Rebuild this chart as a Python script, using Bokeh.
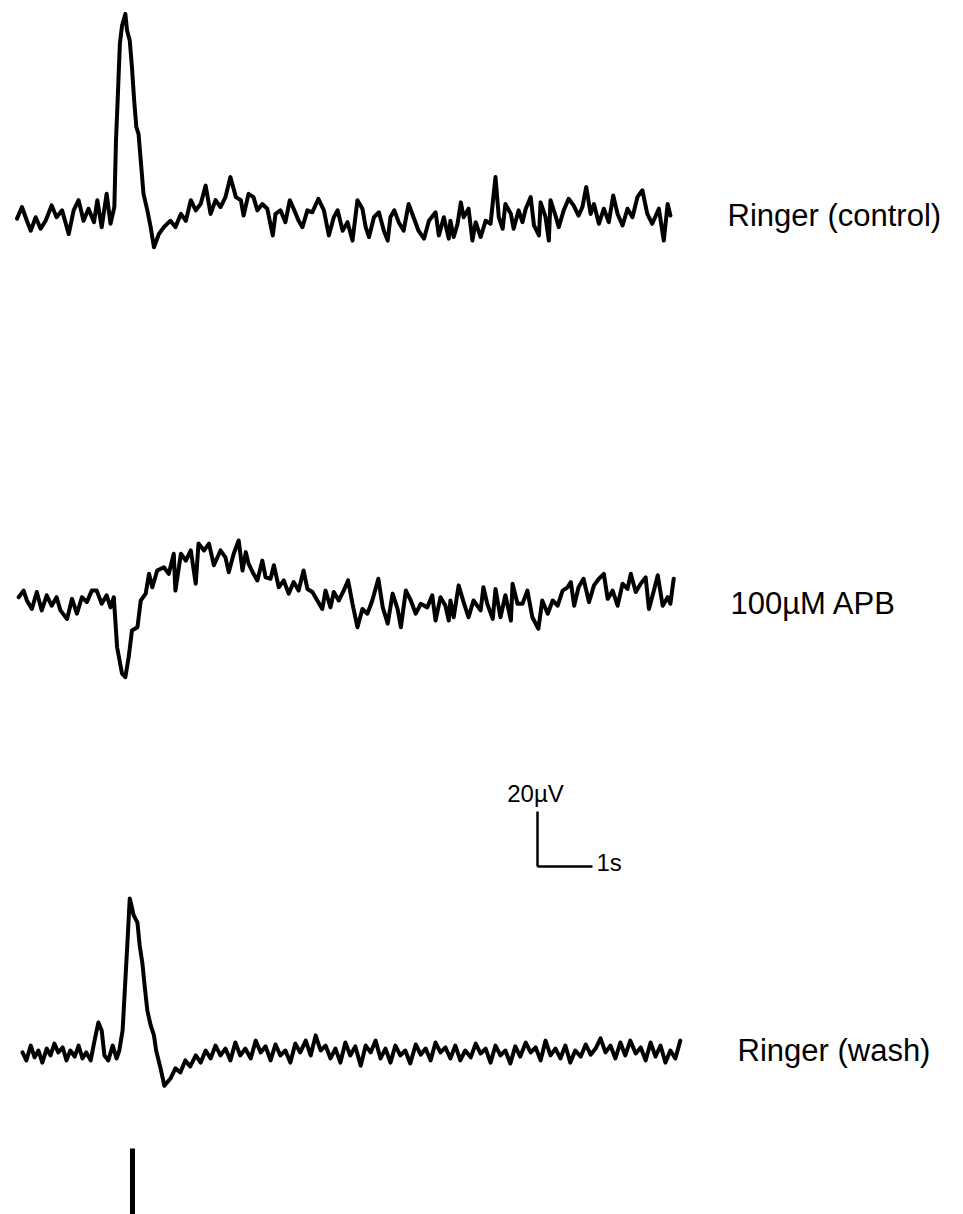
from bokeh.plotting import figure
from bokeh.models import Range1d, Label
from bokeh.embed import file_html
from bokeh.resources import INLINE

# ---------------- data (time in s from stimulus, potential in µV relative to baseline) ----------------
t_control = [-2.10, -2.01, -1.92, -1.85, -1.76, -1.67, -1.58, -1.47, -1.38, -1.28, -1.16, -1.07, -0.98, -0.89,
             -0.80, -0.70, -0.64, -0.56, -0.47, -0.40, -0.33, -0.30, -0.27, -0.23, -0.19, -0.13, -0.10, -0.05,
             -0.01, 0.03, 0.07, 0.11, 0.16, 0.20, 0.27, 0.33, 0.39, 0.48, 0.57, 0.69, 0.78, 0.88, 0.97, 1.06,
             1.15, 1.24, 1.33, 1.42, 1.51, 1.60, 1.69, 1.78, 1.88, 1.97, 2.02, 2.11, 2.20, 2.27, 2.36, 2.45,
             2.55, 2.60, 2.69, 2.78, 2.86, 2.93, 3.02, 3.09, 3.18, 3.27, 3.38, 3.48, 3.57, 3.66, 3.73, 3.82,
             3.91, 4.00, 4.09, 4.18, 4.24, 4.30, 4.39, 4.48, 4.57, 4.64, 4.69, 4.76, 4.84, 4.93, 5.02, 5.11,
             5.20, 5.30, 5.39, 5.51, 5.57, 5.66, 5.75, 5.78, 5.84, 5.91, 5.97, 6.02, 6.11, 6.18, 6.24, 6.33,
             6.42, 6.51, 6.60, 6.66, 6.73, 6.78, 6.88, 6.93, 7.02, 7.09, 7.15, 7.24, 7.30, 7.39, 7.42, 7.51,
             7.57, 7.60, 7.69, 7.75, 7.84, 7.93, 8.02, 8.11, 8.18, 8.25, 8.33, 8.39, 8.48, 8.57, 8.66, 8.74,
             8.82, 8.91, 9.00, 9.09, 9.18, 9.27, 9.36, 9.45, 9.57, 9.66, 9.73, 9.78]
v_control = [-0.4, 3.8, -1.2, -4.8, 0.1, -4.1, -1.2, 4.4, 0.1, 2.6, -6.0, 2.6, 6.3, -1.2,
             3.2, -1.7, 6.3, -3.5, 8.6, -2.3, 3.8, 28.1, 42.6, 63.1, 69.8, 74.0, 68.1, 64.4,
             54.7, 42.6, 32.9, 30.4, 18.3, 8.6, 2.6, -3.5, -10.8, -6.0, -3.5, -1.2, -3.5, 1.3, -1.2, 6.3,
             2.6, 4.9, 11.6, 1.3, 6.3, 3.8, 7.4, 14.7, 7.4, 6.3, 0.7, 8.6, 7.4, 2.6, 4.9, 3.2,
             -6.5, 1.3, 2.6, -1.7, 6.3, 3.2, -1.2, -3.5, 2.6, 1.9, 6.8, 2.6, -6.5, 0.1, 2.6, -4.8,
             -1.7, -8.4, 6.3, 3.2, -3.5, -7.1, 0.1, 1.9, -4.8, -8.4, 0.1, 2.6, -1.7, -4.8, 4.9, 0.1,
             -4.8, -7.7, -1.2, 1.9, -6.5, 0.1, -7.7, -1.2, -7.1, -2.3, 5.5, 0.1, 3.2, -8.4, -1.7, -7.1,
             -1.2, -2.3, 14.7, 0.1, -4.1, 4.9, 1.3, -4.1, 2.6, -1.7, 3.2, 7.4, -2.9, -6.5, 5.5, 0.1,
             -8.4, 6.3, 0.7, -3.5, 2.6, 6.8, 4.4, 0.7, 3.8, 11.1, 1.3, 4.9, -2.3, 3.2, -1.7, 8.0,
             1.3, -2.9, 3.2, 0.1, 7.4, 9.9, 1.3, -2.3, 3.2, -8.4, 4.9, 0.7]

t_apb = [-2.07, -1.98, -1.92, -1.83, -1.74, -1.65, -1.56, -1.47, -1.38, -1.31, -1.19, -1.10, -1.01, -0.92,
         -0.83, -0.74, -0.65, -0.56, -0.47, -0.40, -0.34, -0.28, -0.19, -0.13, -0.07, -0.01, 0.09, 0.15,
         0.24, 0.30, 0.36, 0.45, 0.57, 0.66, 0.75, 0.78, 0.88, 0.97, 1.06, 1.15, 1.20, 1.30, 1.39, 1.48,
         1.60, 1.69, 1.75, 1.84, 1.93, 2.00, 2.06, 2.11, 2.20, 2.27, 2.36, 2.42, 2.51, 2.57, 2.66, 2.75,
         2.84, 2.93, 3.02, 3.11, 3.18, 3.27, 3.36, 3.45, 3.51, 3.60, 3.66, 3.75, 3.84, 3.92, 4.00, 4.09,
         4.18, 4.27, 4.36, 4.47, 4.55, 4.64, 4.73, 4.82, 4.88, 4.97, 5.06, 5.15, 5.24, 5.36, 5.45, 5.51,
         5.60, 5.69, 5.75, 5.78, 5.84, 5.93, 6.02, 6.11, 6.20, 6.33, 6.38, 6.45, 6.55, 6.60, 6.69, 6.78,
         6.88, 6.91, 7.00, 7.09, 7.18, 7.27, 7.38, 7.45, 7.55, 7.64, 7.73, 7.82, 7.91, 7.97, 8.03, 8.11,
         8.20, 8.30, 8.39, 8.48, 8.57, 8.64, 8.73, 8.82, 8.91, 9.00, 9.06, 9.15, 9.24, 9.33, 9.39, 9.48,
         9.55, 9.64, 9.73, 9.78, 9.84]
v_apb = [1.2, 3.6, 0.0, -3.1, 3.1, -3.6, 1.9, -1.9, 1.2, -3.6, -6.7, 0.6, -4.8, 1.2,
         -0.6, 3.6, 3.6, -1.2, 1.9, -2.5, 1.2, -17.0, -26.6, -27.9, -20.7, -10.9, -9.7, 0.0,
         2.5, 9.7, 4.8, 10.9, 12.1, 9.7, 17.0, 3.6, 17.0, 14.5, 18.2, 6.1, 20.7, 18.2, 20.7, 12.8,
         18.2, 15.7, 10.3, 17.0, 21.8, 10.9, 17.6, 13.4, 9.7, 7.3, 14.5, 8.4, 7.9, 12.8, 4.8, 7.3,
         2.5, 6.7, 3.6, 10.9, 4.2, 3.1, 0.0, -3.1, 3.6, -2.5, 3.1, 0.0, 3.6, 7.3, -1.2, -9.7,
         -3.1, -4.8, 0.0, 7.9, -2.5, -8.4, 2.5, -3.1, -9.7, 3.6, 0.0, -4.8, -1.2, -2.5, 1.9, -7.3,
         1.2, -1.9, -7.3, 0.0, -6.1, 5.5, -0.6, -6.1, 0.0, -3.6, 4.8, -1.2, -6.7, 4.2, -6.1, 1.9,
         -7.3, 6.1, -1.2, -1.2, 3.6, -6.1, -10.3, 0.0, -4.8, 0.0, -1.9, 3.6, 4.8, 6.7, -1.9, 4.8,
         7.9, -0.6, 5.5, 7.9, 9.7, 0.6, 3.6, -1.9, 6.1, 4.2, 9.7, 3.1, 6.1, 8.4, -3.1, 3.6,
         9.2, -1.9, 1.2, -1.2, 7.9]

t_wash = [-2.00, -1.93, -1.85, -1.78, -1.71, -1.64, -1.56, -1.49, -1.42, -1.35, -1.27, -1.20, -1.13, -1.05,
          -0.98, -0.91, -0.84, -0.76, -0.69, -0.62, -0.56, -0.51, -0.44, -0.36, -0.29, -0.24, -0.18,
          -0.16, -0.13, -0.09, -0.05, -0.02, 0.02, 0.09, 0.13, 0.18, 0.22, 0.27, 0.33, 0.39, 0.43, 0.51, 0.58,
          0.69, 0.78, 0.87, 0.96, 1.05, 1.15, 1.24, 1.33, 1.42, 1.51,
          1.60, 1.69, 1.78, 1.87, 1.96, 2.05, 2.15, 2.24, 2.33, 2.42,
          2.51, 2.60, 2.69, 2.78, 2.87, 2.96, 3.05, 3.15, 3.24, 3.33,
          3.42, 3.51, 3.60, 3.69, 3.78, 3.87, 3.96, 4.05, 4.15, 4.24,
          4.33, 4.42, 4.51, 4.60, 4.69, 4.78, 4.87, 4.96, 5.05, 5.15,
          5.24, 5.33, 5.42, 5.51, 5.60, 5.69, 5.78, 5.87, 5.96, 6.05,
          6.15, 6.24, 6.33, 6.42, 6.51, 6.60, 6.69, 6.78, 6.87, 6.96,
          7.05, 7.15, 7.24, 7.33, 7.42, 7.51, 7.60, 7.69, 7.78, 7.87,
          7.96, 8.05, 8.15, 8.24, 8.33, 8.42, 8.51, 8.60, 8.69, 8.78,
          8.87, 8.96, 9.05, 9.15, 9.24, 9.33, 9.42, 9.51, 9.60, 9.69,
          9.78, 9.87, 9.96]
v_wash = [-0.7, -3.6, 1.8, -2.5, 0.0, -4.4, 0.7, -1.8, 2.5, -0.7, 1.1, -3.6, 0.0, -2.2,
          1.8, -2.9, -0.7, -3.6, 3.6, 10.2, 7.3, -1.8, -3.6, 1.8, -2.9, 0.0, 7.3,
          14.5, 25.5, 40.0, 55.3, 52.8, 49.2, 46.5, 38.3, 31.7, 23.7, 14.5, 9.2, 5.5, 0.0, -6.5, -12.8,
          -10.2, -6.5, -8.0, -3.6, -5.8, -1.8, -4.4, 0.0, -2.9, 1.8,
          -1.8, 0.7, -3.6, 2.9, -1.8, 0.7, -2.9, 3.6, -0.7, 1.5,
          -3.6, 2.2, -1.8, 0.0, -4.4, 2.5, -0.7, 3.6, -1.8, 5.5,
          0.0, 1.8, -2.9, 0.7, -4.4, 2.9, -1.8, 1.5, -5.5, 1.8,
          -0.7, 3.6, -2.9, 0.7, -4.4, 1.8, -1.8, 0.0, -4.7, 2.2,
          -1.5, 0.7, -3.6, 2.9, -0.7, 1.1, -2.9, 1.8, -3.6, 0.0,
          -2.5, 2.5, -1.1, 0.7, -4.4, 1.8, -1.8, 0.0, -4.7, 1.5,
          -2.2, 2.9, -0.7, 1.1, -3.6, 3.6, -1.8, 0.7, -2.9, 1.8,
          -4.4, 0.0, -2.2, 2.2, -1.5, 0.7, 4.4, -0.7, 1.8, -2.9,
          2.9, -1.8, 3.6, -1.1, 1.1, -3.6, 2.9, -2.2, 1.8, -4.4,
          0.0, -2.9, 3.6]

trace_labels = ["Ringer (control)", "100\u00b5M APB", "Ringer (wash)"]
stimulus_time = [0.0]
scale_time = 1.0        # s
scale_volt = 20.0       # µV
scale_labels = ["20\u00b5V", "1s"]

# ---------------- layout ----------------
W, H = 963, 1214
PX_PER_S = 55.0
PX_PER_UV = 2.75
X0_PX = 132            # pixel column of the stimulus (t = 0)

def yd(px):            # layout pixel row -> data units
    return -px / PX_PER_UV

def xd(px):            # layout pixel column -> data units
    return (px - X0_PX) / PX_PER_S

p = figure(width=W, height=H, output_backend="svg", toolbar_location=None,
           x_range=Range1d(xd(0), xd(W)), y_range=Range1d(yd(H), 0),
           min_border=0, min_border_left=0, min_border_right=0,
           min_border_top=0, min_border_bottom=0)
p.axis.visible = False
p.grid.visible = False
p.outline_line_color = None
p.background_fill_color = "white"
p.border_fill_color = "white"

offsets = [yd(217), yd(600), yd(1050)]
series = [(t_control, v_control), (t_apb, v_apb), (t_wash, v_wash)]
for (ts, vs), off in zip(series, offsets):
    p.line(ts, [v + off for v in vs], line_color="black", line_width=4,
           line_join="round", line_cap="round")

label_px = [(727, 215), (730, 603), (737, 1050)]
for txt, (lx, ly) in zip(trace_labels, label_px):
    p.add_layout(Label(x=xd(lx), y=yd(ly), text=txt, text_align="left",
                       text_baseline="middle", text_font="Liberation Sans",
                       text_font_size="31px", text_color="black"))

# scale bar
sb_x, sb_y = xd(537), yd(866)
p.line([sb_x, sb_x], [sb_y, sb_y + scale_volt], line_color="black", line_width=2.5)
p.line([sb_x, sb_x + scale_time], [sb_y, sb_y], line_color="black", line_width=2.5)
p.add_layout(Label(x=xd(535), y=yd(806), text=scale_labels[0],
                   text_align="center", text_baseline="bottom", text_font="Liberation Sans",
                   text_font_size="24px", text_color="black"))
p.add_layout(Label(x=xd(596), y=yd(862), text=scale_labels[1],
                   text_align="left", text_baseline="middle", text_font="Liberation Sans",
                   text_font_size="24px", text_color="black"))

# stimulus marker
for st in stimulus_time:
    p.line([st, st], [yd(1148), yd(H)], line_color="black", line_width=5)

open("out.html", "w").write(file_html(p, INLINE))
